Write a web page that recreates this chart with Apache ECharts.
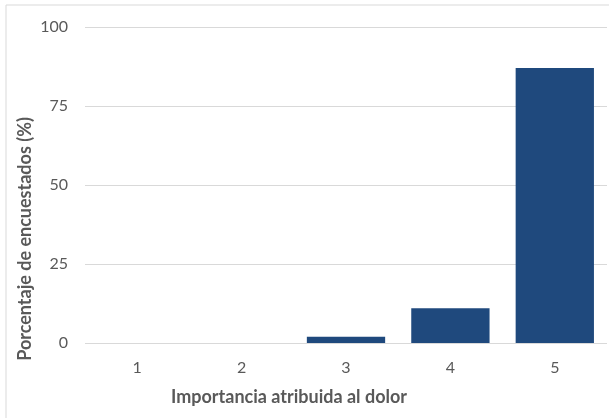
<!DOCTYPE html>
<html><head><meta charset="utf-8">
<script src="https://cdn.jsdelivr.net/npm/echarts@6/dist/echarts.min.js"></script>
<style>html,body{margin:0;padding:0;background:#fff}#c{width:609px;height:418px}</style>
</head><body><div id="c"></div>
<script>
const categories = ['1','2','3','4','5'];
const values = [0, 0, 2, 11, 87];
const yTicks = [0, 25, 50, 75, 100];
const xTitle = 'Importancia atribuida al dolor';
const yTitle = 'Porcentaje de encuestados (%)';
const font = 'Lato, "Open Sans", sans-serif';
const chart = echarts.init(document.getElementById('c'), null, {renderer:'canvas'});
chart.setOption({
  animation:false,
  backgroundColor:'#fff',
  grid:{left:85,right:2,top:27,bottom:75,containLabel:false},
  graphic:[
    {type:'rect',x:6,y:5,shape:{width:640,height:440},style:{fill:'none',stroke:'#d9d9d9',lineWidth:1},z:-1},
    {type:'text',x:289,y:397,style:{text:xTitle,font:'bold 18px '+font,fill:'#595959',align:'center',verticalAlign:'middle'}},
    {type:'text',x:25,y:239,rotation:Math.PI/2,style:{text:yTitle,font:'bold 18px '+font,fill:'#595959',align:'center',verticalAlign:'middle'}}
  ],
  xAxis:{type:'category',data:categories,axisLine:{show:false},axisTick:{show:false},
    axisLabel:{color:'#595959',fontSize:16,fontFamily:font,margin:17}},
  yAxis:{type:'value',min:yTicks[0],max:yTicks[yTicks.length-1],interval:25,
    axisLine:{show:false},axisTick:{show:false},
    splitLine:{lineStyle:{color:'#d9d9d9',width:1}},
    axisLabel:{color:'#595959',fontSize:16,fontFamily:font,margin:17}},
  series:[{type:'bar',data:values,barCategoryGap:'25%',
    itemStyle:{color:'#1f497d'}}]
});
</script></body></html>
